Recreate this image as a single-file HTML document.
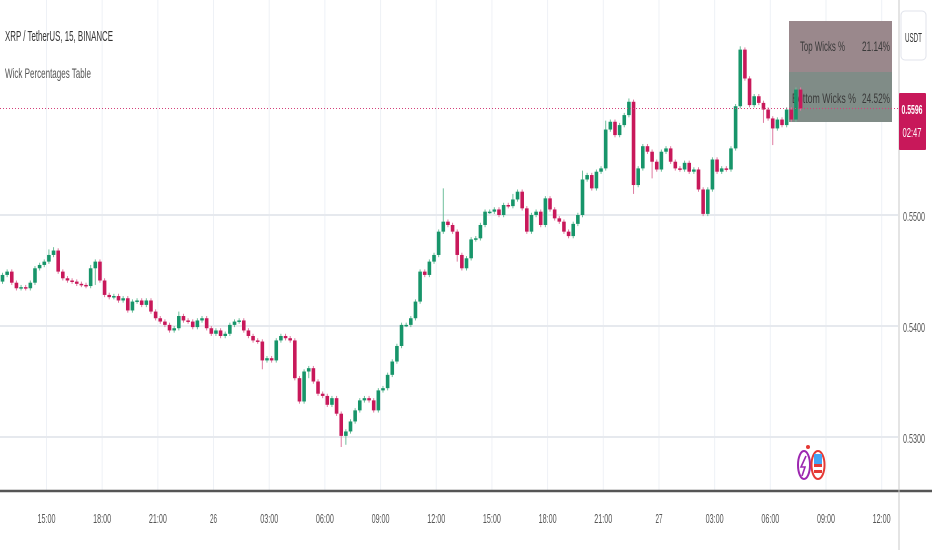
<!DOCTYPE html>
<html><head><meta charset="utf-8"><style>
html,body{margin:0;padding:0;background:#fff;}
svg{display:block;font-family:"Liberation Sans",sans-serif;}
</style></head><body>
<svg id="chart" width="932" height="550" xmlns="http://www.w3.org/2000/svg"></svg>
<script>
const closes=[5446,5449,5439,5434,5435,5434,5439,5452,5455,5458,
5464,5468,5449,5443,5441,5440,5438,5437,5436,5452,
5458,5441,5428,5426,5427,5423,5425,5414,5422,5423,
5419,5423,5413,5407,5404,5401,5396,5398,5409,5405,
5404,5399,5405,5407,5398,5393,5396,5391,5393,5401,
5404,5405,5396,5391,5387,5386,5369,5371,5369,5387,
5391,5389,5387,5353,5332,5359,5362,5350,5339,5337,
5329,5335,5321,5301,5305,5314,5324,5333,5335,5333,
5324,5342,5344,5356,5368,5382,5401,5401,5407,5422,
5449,5446,5458,5464,5485,5494,5491,5485,5464,5452,
5461,5478,5479,5491,5503,5503,5505,5500,5509,5508,
5514,5521,5506,5485,5500,5503,5491,5515,5505,5497,
5494,5485,5481,5492,5500,5532,5536,5524,5539,5542,
5577,5584,5572,5581,5590,5602,5527,5542,5562,5557,
5548,5541,5557,5560,5548,5542,5541,5547,5539,5541,
5523,5501,5523,5550,5539,5542,5541,5560,5598,5649,
5623,5599,5607,5601,5595,5587,5578,5586,5581,5595,
5586,5613,5596];
const firstOpen=5440;
const upWick=[2,2,2,2,2,2,2,2,2,2, 5,3,2,2,2,2,2,2,2,3, 2,2,2,2,2,2,2,2,2,2,
2,2,2,2,2,2,2,2,4,2, 2,2,2,2,2,2,2,2,2,2, 2,2,2,2,2,2,2,2,2,2,
2,2,2,2,2,2,2,2,2,2, 2,2,2,2,2,2,2,2,2,2, 2,2,2,2,2,2,2,2,2,2,
2,2,2,2,2,30,2,2,2,2, 2,2,2,2,2,2,2,2,2,2, 5,2,2,2,2,2,2,2,2,2,
2,2,2,2,2,8,2,2,2,2, 8,2,2,2,2,3,2,2,2,2, 2,2,2,2,2,2,2,2,2,2,
2,2,2,2,2,2,2,2,2,3, 2,2,2,2,2,2,2,2,2,2, 2,2,2];
const downWick=[2,2,2,2,2,2,2,2,2,2, 2,2,2,2,2,2,2,2,2,2, 15,2,2,2,2,2,2,2,2,2,
2,2,2,2,2,2,2,2,2,2, 2,2,2,2,2,2,2,2,2,2, 2,2,2,2,2,2,8,2,2,2,
2,2,2,2,2,2,6,2,2,2, 2,2,2,10,8,2,2,2,2,2, 2,2,2,2,2,2,2,2,2,2,
2,2,2,2,2,2,2,2,6,2, 2,2,2,2,2,2,2,2,2,2, 2,2,2,2,2,2,2,2,2,2,
2,2,2,2,2,2,2,2,2,2, 2,2,2,2,2,2,8,2,2,2, 15,2,2,2,2,2,2,2,2,2,
2,2,2,2,2,2,2,2,2,2, 2,2,2,2,12,2,15,2,2,2, 2,2,2];
const priceTicks=[0.55,0.54,0.53];
const priceTickLabels=["0.5500","0.5400","0.5300"];
const timeLabels=["15:00","18:00","21:00","26","03:00","06:00","09:00","12:00","15:00","18:00","21:00","27","03:00","06:00","09:00","12:00"];
const firstLabelIndex=9.48, labelStep=12;
const lastPrice=0.5596;

const NS="http://www.w3.org/2000/svg";
const svg=document.getElementById('chart');
function el(tag,attrs,parent){const e=document.createElementNS(NS,tag);for(const k in attrs)e.setAttribute(k,attrs[k]);(parent||svg).appendChild(e);return e;}
const yScale=p=>215-(p-0.55)*11100;
const xScale=i=>2.5+i*4.64;
const PLOT_R=898, AXIS_Y=491;

const grid=el('g',{});


timeLabels.forEach((t,k)=>{const x=xScale(firstLabelIndex+k*labelStep);
 const l=el('line',{x1:x,x2:x,y1:0,y2:AXIS_Y,stroke:'#eef1f6','stroke-width':1},grid);
 
 });
priceTicks.forEach(p=>{const y=yScale(p);
 const l=el('line',{x1:0,x2:PLOT_R,y1:y,y2:y,stroke:'#e6e9ee','stroke-width':2},grid);
 
 });

const tbl=el('g',{});


el('rect',{x:789,y:21,width:103,height:51,fill:'#9a888c'},tbl);
el('rect',{x:789,y:72,width:103,height:50,fill:'#808c87'},tbl);
const t1=el('text',{x:800,y:51,'font-size':14,fill:'#3a3a3a',textLength:45,lengthAdjust:'spacingAndGlyphs'},tbl);t1.textContent='Top Wicks %';

const t2=el('text',{x:890,y:51,'font-size':14,fill:'#3a3a3a','text-anchor':'end',textLength:28,lengthAdjust:'spacingAndGlyphs'},tbl);t2.textContent='21.14%';

const t3=el('text',{x:792,y:103,'font-size':14,fill:'#3a3a3a',textLength:64,lengthAdjust:'spacingAndGlyphs'},tbl);t3.textContent='Bottom Wicks %';

const t4=el('text',{x:890,y:103,'font-size':14,fill:'#3a3a3a','text-anchor':'end',textLength:28,lengthAdjust:'spacingAndGlyphs'},tbl);t4.textContent='24.52%';


const cg=el('g',{});


closes.forEach((c,i)=>{
 const o=i===0?firstOpen:closes[i-1];
 const hi=(Math.max(o,c)+upWick[i])/10000, lo=(Math.min(o,c)-downWick[i])/10000;
 const up=c>=o, col=up?'#17956a':'#c8185a';
 const x=xScale(i);
 const g=el('g',{},cg);
 
 
 el('line',{x1:x,x2:x,y1:yScale(hi),y2:yScale(lo),stroke:up?'#6fbf9c':'#de7aa0','stroke-width':1},g);
 const yt=yScale(Math.max(o,c)/10000), yb=yScale(Math.min(o,c)/10000);
 el('rect',{x:x-1.8,y:yt,width:3.6,height:Math.max(1.5,yb-yt),fill:col},g);
});

const py=yScale(lastPrice);
const pl=el('line',{x1:0,x2:PLOT_R,y1:py,y2:py,stroke:'#d4407a','stroke-width':1,'stroke-dasharray':'1 2'});



const h1=el('text',{x:5,y:41,'font-size':15,fill:'#333',textLength:108,lengthAdjust:'spacingAndGlyphs'});h1.textContent='XRP / TetherUS, 15, BINANCE';

const h2=el('text',{x:5,y:78,'font-size':14,fill:'#555',textLength:86,lengthAdjust:'spacingAndGlyphs'});h2.textContent='Wick Percentages Table';


const ax=el('line',{x1:0,x2:932,y1:AXIS_Y,y2:AXIS_Y,stroke:'#555','stroke-width':2.5});

const ay=el('line',{x1:PLOT_R+1,x2:PLOT_R+1,y1:0,y2:550,stroke:'#c8c8c8','stroke-width':1});

timeLabels.forEach((t,k)=>{const x=xScale(firstLabelIndex+k*labelStep);
 const tx=el('text',{x:x,y:523,'font-size':13,fill:'#555','text-anchor':'middle',textLength:t.length>2?18:7,lengthAdjust:'spacingAndGlyphs'});tx.textContent=t;
 });
priceTicks.forEach((p,k)=>{const y=yScale(p);
 const tx=el('text',{x:903,y:y+6,'font-size':13,fill:'#555',textLength:22,lengthAdjust:'spacingAndGlyphs'});tx.textContent=priceTickLabels[k];
 });

const tag=el('g',{});


el('rect',{x:899,y:93,width:27,height:57,rx:1,fill:'#c8185a'},tag);
const pt=el('text',{x:912,y:114,'font-size':13,'font-weight':'bold',fill:'#fff','text-anchor':'middle',textLength:21,lengthAdjust:'spacingAndGlyphs'},tag);pt.textContent='0.5596';
const tt=el('text',{x:912,y:137,'font-size':13,fill:'#fff','text-anchor':'middle',textLength:19,lengthAdjust:'spacingAndGlyphs'},tag);tt.textContent='02:47';

const ub=el('g',{});


el('rect',{x:901,y:11,width:25,height:49,rx:4,fill:'#fff',stroke:'#e0e3eb'},ub);
const ut=el('text',{x:913.5,y:42,'font-size':13,fill:'#333','text-anchor':'middle',textLength:17,lengthAdjust:'spacingAndGlyphs'},ub);ut.textContent='USDT';

const ic=el('g',{});


el('ellipse',{cx:804,cy:465,rx:6,ry:14,fill:'#fff',stroke:'#9c27b0','stroke-width':2},ic);
el('path',{d:'M806 456 L801 467 L805 467 L802 476',fill:'none',stroke:'#9c27b0','stroke-width':1.6},ic);
el('circle',{cx:808,cy:447,r:2,fill:'#e53935'},ic);
el('ellipse',{cx:818,cy:465,rx:6.5,ry:14,fill:'#fff',stroke:'#e53935','stroke-width':2},ic);
el('rect',{x:814,y:454,width:8,height:10,fill:'#42a5f5'},ic);
el('rect',{x:814,y:464,width:8,height:3,fill:'#e53935'},ic);
el('rect',{x:814,y:470,width:8,height:3,fill:'#e53935'},ic);
</script>
</body></html>
